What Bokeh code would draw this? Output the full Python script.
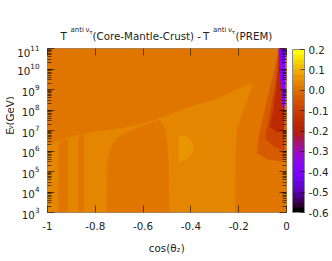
import math
from bokeh.plotting import figure
from bokeh.layouts import column, row
from bokeh.models import (LinearColorMapper, ColorBar, FixedTicker, LogAxis, LinearAxis,
                          PrintfTickFormatter, CustomJSTickFormatter, ColumnDataSource,
                          Range1d, LogTickFormatter)
from bokeh.core.properties import value
from bokeh.embed import file_html
from bokeh.resources import INLINE

# ---------------- data ----------------
x_ticks = [-1, -0.8, -0.6, -0.4, -0.2, 0]
y_decades = [3, 4, 5, 6, 7, 8, 9, 10, 11]
cb_ticks = [-0.6, -0.5, -0.4, -0.3, -0.2, -0.1, 0.0, 0.1, 0.2]
z_low, z_high = -0.6, 0.2

# regions: outline in (cos theta_z, log10 E/GeV) and the difference value
base_cos = [-1, 0, 0, -1]
base_logE = [3, 3, 11, 11]
base_val = 0.0375

upper_cos = [-1, 0, 0, -0.215, -0.213, -0.205, -0.17, -0.139, -0.22, -0.288, -0.36, -0.429,
             -0.5, -0.565, -0.669, -0.772, -0.847, -0.93, -1]
upper_logE = [11, 11, 3, 3, 6.0, 7.15, 8.3, 9.35, 8.95, 8.56, 8.3, 8.05,
              7.75, 7.45, 7.15, 7.0, 6.85, 6.6, 6.3]
upper_val = 0.0125

strip1_cos = [-0.954, -0.913, -0.913, -0.925, -0.94, -0.954]
strip1_logE = [3, 3, 6.4, 6.6, 6.55, 6.35]
strip1_val = 0.0125

strip2_cos = [-0.872, -0.847, -0.847, -0.86, -0.872]
strip2_logE = [3, 3, 6.75, 6.8, 6.6]
strip2_val = 0.0125

dome_cos = [-0.754, -0.75, -0.735, -0.71, -0.68, -0.64, -0.6, -0.56, -0.53, -0.505, -0.495, -0.49]
dome_logE = [3, 5.5, 6.2, 6.6, 6.85, 7.05, 7.25, 7.42, 7.5, 7.0, 6.0, 3]
dome_val = 0.0125

blob_cos = [-0.449, -0.42, -0.397, -0.387, -0.395, -0.42, -0.449]
blob_logE = [6.76, 6.72, 6.5, 6.17, 5.85, 5.6, 5.44]
blob_val = 0.0625

zoneA_cos = [-0.125, -0.115, -0.095, -0.075, -0.055, -0.04, -0.03, -0.004, -0.004, -0.03, -0.08]
zoneA_logE = [5.9, 6.8, 7.8, 8.8, 9.8, 10.6, 11, 11, 5.6, 5.5, 5.6]
zoneA_val = -0.0375

zoneB_cos = [-0.09, -0.075, -0.06, -0.045, -0.035, -0.03, -0.008, -0.008, -0.05]
zoneB_logE = [6.6, 7.5, 8.5, 9.5, 10.5, 11, 11, 6.0, 6.2]
zoneB_val = -0.0875

zoneC_cos = [-0.07, -0.055, -0.045, -0.035, -0.03, -0.012, -0.012, -0.04]
zoneC_logE = [7.2, 8.0, 9.0, 10.0, 11, 11, 7.0, 6.9]
zoneC_val = -0.1625

zoneD_cos = [-0.034, -0.005, -0.005, -0.012, -0.02, -0.03]
zoneD_logE = [11, 11, 8.5, 7.8, 8.5, 10.0]
zoneD_val = -0.3625

zoneE_cos = [-0.026, -0.008, -0.01, -0.02]
zoneE_logE = [11, 11, 10.2, 10.2]
zoneE_val = -0.4375

regions = [
    (base_cos, base_logE, base_val),
    (upper_cos, upper_logE, upper_val),
    (strip1_cos, strip1_logE, strip1_val),
    (strip2_cos, strip2_logE, strip2_val),
    (dome_cos, dome_logE, dome_val),
    (blob_cos, blob_logE, blob_val),
    (zoneA_cos, zoneA_logE, zoneA_val),
    (zoneB_cos, zoneB_logE, zoneB_val),
    (zoneC_cos, zoneC_logE, zoneC_val),
    (zoneD_cos, zoneD_logE, zoneD_val),
    (zoneE_cos, zoneE_logE, zoneE_val),
]

# text pieces (title, axis titles with super/subscripts)
title_pieces = ["T", "anti", "ν", "τ", "(Core-Mantle-Crust) -", "T", "anti", "ν", "τ", "(PREM)"]
xlabel_pieces = ["cos(θ", "z", ")"]
ylabel_pieces = ["E", "ν", "(GeV)"]

# ---------------- palette (gnuplot rgbformulae 7,5,15, 32 levels) ----------------
N = 32
palette = []
for i in range(N):
    g = i / (N - 1)
    r = math.sqrt(g)
    gg = g ** 3
    b = max(0.0, math.sin(2 * math.pi * g))
    palette.append("#%02x%02x%02x" % (round(r * 255), round(gg * 255), round(b * 255)))

mapper = LinearColorMapper(palette=palette, low=z_low, high=z_high)

src = ColumnDataSource(dict(
    xs=[r[0] for r in regions],
    ys=[[10 ** v for v in r[1]] for r in regions],
    val=[r[2] for r in regions],
))

FONT = "DejaVu Sans"
TXT = "#222222"

# page layout: title strip, ylabel strip, main chart, xlabel strip
PAGE_W = 332
TITLE_H = 44
YLAB_W = 14
MID_H = 192
XLAB_H = 25
MAIN_W = PAGE_W - YLAB_W

FL, FT, FW, FH = 45 - YLAB_W, 48 - TITLE_H, 241, 164
p = figure(width=MAIN_W, height=MID_H, output_backend="svg", toolbar_location=None,
           x_range=Range1d(-1, 0), y_range=Range1d(10 ** y_decades[0], 10 ** y_decades[-1]),
           y_axis_type="log", min_border_left=FL, min_border_right=MAIN_W - FL - FW,
           min_border_top=FT, min_border_bottom=MID_H - FT - FH,
           x_axis_location=None, y_axis_location=None)
p.background_fill_color = "white"
p.border_fill_color = "white"
p.grid.visible = False
p.outline_line_color = "#888888"
p.outline_line_width = 1

p.patches("xs", "ys", source=src, line_color=None,
          fill_color={"field": "val", "transform": mapper})

major_y = [10 ** d for d in y_decades]
minor_y = [k * 10 ** d for d in y_decades[:-1] for k in range(2, 10)]

blank = CustomJSTickFormatter(code="return '';")

def style(ax):
    ax.axis_line_color = None
    ax.major_tick_in = 7
    ax.major_tick_out = 0
    ax.minor_tick_in = 4
    ax.minor_tick_out = 0
    ax.major_tick_line_color = "black"
    ax.major_tick_line_alpha = 0.55
    ax.minor_tick_line_color = "black"
    ax.minor_tick_line_alpha = 0.55
    ax.major_label_text_font = FONT
    ax.major_label_text_font_size = "10.3px"
    ax.major_label_text_color = TXT

xfmt = CustomJSTickFormatter(code="return tick.toFixed(1).replace(/\\.0$/, '');")

bottom = LinearAxis(ticker=FixedTicker(ticks=x_ticks), formatter=xfmt)
style(bottom)
bottom.major_label_standoff = 9
p.add_layout(bottom, "below")

top = LinearAxis(ticker=FixedTicker(ticks=x_ticks), formatter=blank)
style(top)
top.major_label_standoff = 0
p.add_layout(top, "above")

left = LogAxis(ticker=FixedTicker(ticks=major_y, minor_ticks=minor_y), formatter=LogTickFormatter())
style(left)
left.major_label_standoff = 8
p.add_layout(left, "left")

right = LogAxis(ticker=FixedTicker(ticks=major_y, minor_ticks=minor_y), formatter=blank)
style(right)
right.major_label_standoff = 0
p.add_layout(right, "right")

cb = ColorBar(color_mapper=mapper, width=12, height=163, location=(6, 0),
              padding=0, margin=0, ticker=FixedTicker(ticks=cb_ticks),
              formatter=PrintfTickFormatter(format="%.1f"),
              major_label_text_font=FONT, major_label_text_font_size="10.3px",
              major_label_text_color=TXT, label_standoff=4,
              major_tick_in=4, major_tick_line_color="black", major_tick_line_alpha=0.6,
              minor_tick_line_color=None, bar_line_color="#888888",
              background_fill_alpha=0, border_line_color=None)
p.add_layout(cb, "right")


def text_fig(w, h, x0, y0, texts, xs, ys, sizes, angle):
    """A plain strip whose data coordinates equal page pixels."""
    f = figure(width=w, height=h, output_backend="svg", toolbar_location=None,
               x_range=Range1d(x0, x0 + w), y_range=Range1d(y0 + h, y0),
               min_border=0, x_axis_location=None, y_axis_location=None)
    f.grid.visible = False
    f.outline_line_color = None
    f.background_fill_color = "white"
    f.border_fill_color = "white"
    s = ColumnDataSource(dict(x=xs, y=ys, text=texts, size=sizes))
    f.text(x="x", y="y", text="text", source=s, text_font=value(FONT), text_font_size="size",
           text_color=TXT, text_align="left", text_baseline="alphabetic", angle=angle)
    return f

t_fig = text_fig(PAGE_W, TITLE_H, 0, 0, title_pieces,
                 [60, 70, 85, 88.8, 92, 202.5, 212.5, 227.5, 231.3, 235],
                 [35.5, 29.5, 29.5, 31.5, 35.5, 35.5, 29.5, 29.5, 31.5, 35.5],
                 ["10.3px", "7px", "7px", "5.5px", "10.3px", "10.3px", "7px", "7px", "5.5px", "10.3px"],
                 0.0)
y_fig = text_fig(YLAB_W, MID_H, 0, TITLE_H, ylabel_pieces,
                 [9, 10.5, 9], [145, 138.5, 134.2], ["10.3px", "7px", "10.3px"], math.pi / 2)
x_fig = text_fig(PAGE_W, XLAB_H, 0, TITLE_H + MID_H, xlabel_pieces,
                 [148.3, 176.2, 180.2], [247, 249.5, 247], ["10.3px", "7px", "10.3px"], 0.0)

page = column(t_fig, row(y_fig, p, spacing=0), x_fig, spacing=0)

open("out.html", "w").write(file_html(page, INLINE))
